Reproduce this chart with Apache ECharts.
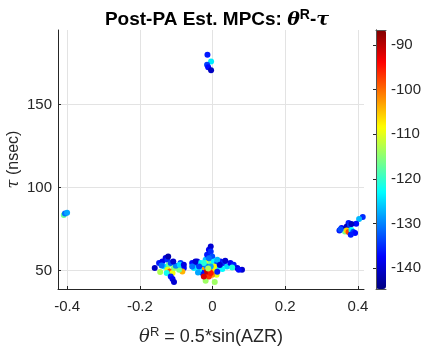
<!DOCTYPE html>
<html>
<head>
<meta charset="utf-8">
<script src="https://cdn.jsdelivr.net/npm/echarts@6/dist/echarts.min.js"></script>
<style>
  html, body { margin: 0; padding: 0; background: #fff; }
  #chart { width: 423px; height: 346px; }
</style>
</head>
<body>
<div id="chart"></div>
<script>
// theta^R, tau (nsec), power (dB) of each estimated MPC
const thetaR = [
  // top cluster
  -0.014, -0.004, -0.015, -0.012, -0.004,
  // far left
  -0.409, -0.406, -0.400,
  // right cluster
  0.413, 0.403, 0.395, 0.374, 0.369, 0.378, 0.355, 0.349, 0.360, 0.364, 0.369, 0.374, 0.382, 0.387, 0.392, 0.380, 0.352, 0.382,
  // bottom left cluster
  -0.159, -0.144, -0.147, -0.138, -0.129, -0.124, -0.133, -0.120, -0.115, -0.124, -0.117, -0.110, -0.126, -0.106,
  -0.097, -0.088, -0.079, -0.083, -0.092, -0.115, -0.110, -0.106, -0.101, -0.090, -0.140, -0.108, -0.122, -0.079,
  // bottom centre cluster
  -0.056, -0.047, -0.051, -0.042, -0.033, -0.028, -0.019, -0.015, -0.010, -0.005, -0.005, -0.001, -0.015, -0.024,
  -0.019, -0.010, -0.001, 0.004, 0.008, -0.028, -0.037, -0.005, 0.004, 0.013, 0.022, 0.017, 0.031, 0.040,
  0.049, 0.058, 0.068, 0.081, 0.072, 0.027, 0.011, -0.019, 0.006, -0.001, -0.010, -0.016, -0.024, -0.037,
  0.013, -0.015, -0.005, -0.024, 0.004, -0.047, -0.056, -0.005, 0.035, 0.054, -0.040, -0.010, -0.012, 0.013, 0.020
];
const tau = [
  180.1, 176.1, 174.1, 172.5, 170.8,
  83.5, 84.5, 85.0,
  82.3, 81.1, 78.3, 78.7, 76.7, 77.5, 75.7, 74.3, 74.8, 73.7, 74.3, 73.3, 74.5, 73.3, 72.7, 71.7, 75.0, 78.2,
  51.6, 49.2, 54.6, 55.6, 57.6, 56.6, 52.6, 53.6, 54.6, 50.6, 49.6, 48.6, 48.6, 51.6,
  52.6, 54.6, 51.6, 49.6, 50.6, 46.6, 45.0, 43.2, 53.0, 53.6, 53.2, 55.6, 58.6, 53.6,
  54.6, 53.6, 51.6, 55.6, 54.6, 52.6, 56.6, 59.6, 62.6, 64.6, 61.6, 58.6, 54.6, 50.6,
  49.0, 49.6, 51.6, 48.6, 50.6, 48.6, 50.6, 54.6, 55.6, 54.6, 55.6, 52.6, 54.6, 52.6,
  54.6, 53.6, 51.6, 50.6, 50.6, 51.0, 47.6, 44.0, 43.2, 47.6, 46.6, 52.6, 54.6, 52.6,
  56.6, 49.6, 48.6, 46.6, 52.6, 55.6, 52.6, 52.6, 56.0, 52.0, 49.0, 57.5, 51.3, 49.4, 53.5
];
const power = [
  -136, -124, -134, -137, -141,
  -117, -131, -128,
  -135, -127, -137, -136, -141, -134, -137, -136, -141, -116, -106, -98, -123, -134, -137, -136, -133, -141,
  -141, -113, -136, -138, -139, -135, -124, -117, -133, -110, -98, -109, -122, -115,
  -111, -134, -137, -104, -116, -136, -138, -140, -130, -125, -131, -140, -142, -139,
  -137, -135, -124, -139, -123, -132, -126, -136, -138, -140, -135, -133, -110, -103,
  -96, -90, -102, -104, -109, -136, -122, -116, -123, -134, -137, -124, -135, -125,
  -138, -136, -139, -140, -137, -123, -110, -114, -114, -102, -97, -130, -121, -134,
  -127, -91, -95, -92, -108, -140, -131, -128, -140, -121, -128, -131, -113, -136, -140
];

const xTicks = [-0.4, -0.2, 0, 0.2, 0.4];
const yTicks = [50, 100, 150];
const cbTicks = [-140, -130, -120, -110, -100, -90];

const jet = ['#000080', '#0000ff', '#0080ff', '#00ffff', '#80ff80', '#ffff00', '#ff8000', '#ff0000', '#800000'];

const points = thetaR.map((t, i) => [t, tau[i], power[i]]);

const axisColor = '#262626';
const font = 'Liberation Sans, Arial, sans-serif';
const greek = 'DejaVu Serif, serif';

const chart = echarts.init(document.getElementById('chart'));

chart.setOption({
  animation: false,
  title: {
    text: '{a|Post-PA Est. MPCs: }{g|θ}{s|R}{a|-}{g|τ}',
    left: 212,
    top: 3,
    textAlign: 'center',
    textStyle: {
      rich: {
        a: { fontFamily: font, fontWeight: 'bold', fontSize: 19, color: '#000' },
        g: { fontFamily: greek, fontStyle: 'italic', fontSize: 19, color: '#000' },
        s: { fontFamily: font, fontWeight: 'bold', fontSize: 14, color: '#000', padding: [0, 0, 10, 0] }
      }
    }
  },
  grid: [
    { left: 58, right: 59, top: 30, bottom: 57, outerBoundsMode: 'none' },
    { left: 376, width: 10, top: 30, bottom: 57, outerBoundsMode: 'none' }
  ],
  xAxis: [
    {
      gridIndex: 0,
      type: 'value',
      min: -0.425,
      max: 0.4165,
      name: '{g|θ}{s|R}{a| = 0.5*sin(AZR)}',
      nameLocation: 'middle',
      nameGap: 37,
      nameMoveOverlap: false,
      nameTextStyle: {
        rich: {
          a: { fontFamily: font, fontSize: 18, color: axisColor },
          g: { fontFamily: greek, fontStyle: 'italic', fontSize: 18, color: axisColor },
          s: { fontFamily: font, fontSize: 13, color: axisColor, padding: [0, 0, 9, 0] }
        }
      },
      axisLine: { show: true, onZero: false, lineStyle: { color: axisColor, width: 1 } },
      axisTick: { show: true, inside: true, length: 3, customValues: xTicks, lineStyle: { color: axisColor } },
      axisLabel: { customValues: xTicks, fontFamily: font, fontSize: 15, color: axisColor, margin: 10 },
      splitLine: { show: true, lineStyle: { color: '#e3e3e3', width: 1 } }
    },
    {
      gridIndex: 1, type: 'value', min: 0, max: 1, position: 'bottom', z: 10,
      axisLine: { show: true, lineStyle: { color: '#555', width: 1 } },
      axisTick: { show: false }, axisLabel: { show: false }, splitLine: { show: false }
    },
    {
      gridIndex: 1, type: 'value', min: 0, max: 1, position: 'top', z: 10,
      axisLine: { show: true, lineStyle: { color: '#555', width: 1 } },
      axisTick: { show: false }, axisLabel: { show: false }, splitLine: { show: false }
    }
  ],
  yAxis: [
    {
      gridIndex: 0,
      type: 'value',
      min: 39,
      max: 195,
      name: '{g|τ}{a| (nsec)}',
      nameLocation: 'middle',
      nameGap: 36,
      nameMoveOverlap: false,
      nameRotate: 90,
      nameTextStyle: {
        rich: {
          a: { fontFamily: font, fontSize: 16, color: axisColor },
          g: { fontFamily: greek, fontStyle: 'italic', fontSize: 16, color: axisColor }
        }
      },
      axisLine: { show: true, onZero: false, lineStyle: { color: axisColor, width: 1 } },
      axisTick: { show: true, inside: true, length: 3, customValues: yTicks, lineStyle: { color: axisColor } },
      axisLabel: { customValues: yTicks, fontFamily: font, fontSize: 15, color: axisColor, margin: 6 },
      splitLine: { show: true, lineStyle: { color: '#e3e3e3', width: 1 } }
    },
    {
      gridIndex: 1,
      type: 'value',
      min: -144.7,
      max: -86.6,
      position: 'right',
      z: 10,
      axisLine: { show: true, lineStyle: { color: '#555', width: 1 } },
      axisTick: { show: true, inside: true, length: 3, customValues: cbTicks, lineStyle: { color: axisColor } },
      axisLabel: { customValues: cbTicks, fontFamily: font, fontSize: 15, color: axisColor, margin: 5 },
      splitLine: { show: false }
    },
    {
      gridIndex: 1, type: 'value', min: 0, max: 1, position: 'left', z: 10,
      axisLine: { show: true, lineStyle: { color: '#555', width: 1 } },
      axisTick: { show: false }, axisLabel: { show: false }, splitLine: { show: false }
    }
  ],
  visualMap: {
    type: 'continuous',
    seriesIndex: 0,
    dimension: 2,
    min: -144.7,
    max: -86.6,
    calculable: false,
    left: 376,
    top: 30,
    itemWidth: 10,
    itemHeight: 259,
    padding: 0,
    inRange: { color: jet }
  },
  series: [
    {
      type: 'scatter',
      xAxisIndex: 0,
      yAxisIndex: 0,
      data: points,
      symbolSize: 6,
      itemStyle: { opacity: 1 }
    }
  ]
});
</script>
</body>
</html>
